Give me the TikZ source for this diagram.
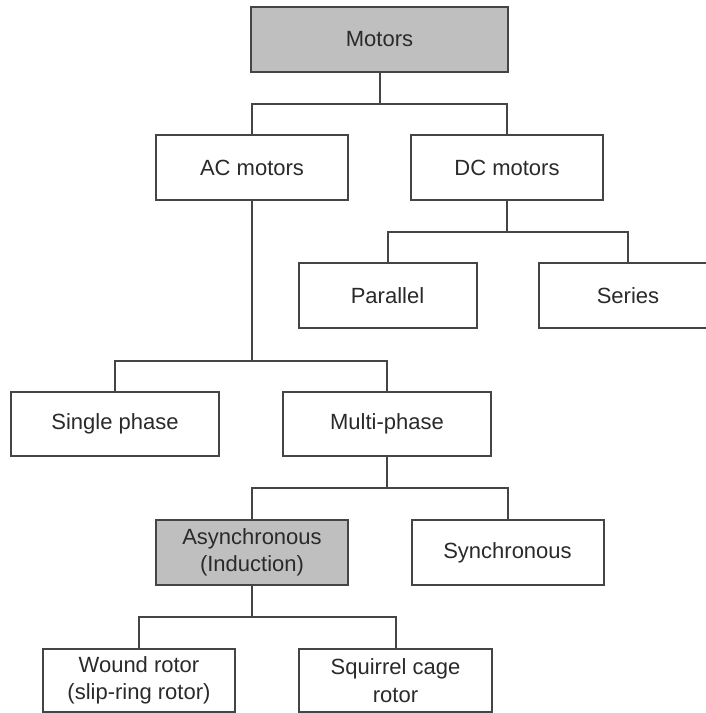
\documentclass[tikz,border=0pt]{standalone}
\usepackage{fontspec}
\setmainfont{Liberation Sans}
\definecolor{linec}{HTML}{454545}
\definecolor{textc}{HTML}{2A2A2A}
\definecolor{boxfill}{HTML}{C0BFC0}
\tikzset{
  box/.style={draw=linec, line width=2pt, fill=white, inner sep=0pt, align=center,
    text=textc, font=\fontsize{22}{27.5}\selectfont, minimum height=65pt},
  hbox/.style={box, fill=boxfill},
  conn/.style={draw=linec, line width=2pt}
}
\begin{document}
\begin{tikzpicture}[x=1pt, y=-1pt]
\clip (0,0) rectangle (706,713);
\fill[white] (0,0) rectangle (706,713);
\node[hbox, minimum width=257pt] (motors) at (379.5,39.5) {Motors};
\node[box, minimum width=192pt] (ac) at (252,167.5) {AC motors};
\node[box, minimum width=192pt] (dc) at (507,167.5) {DC motors};
\node[box, minimum width=178pt] (par) at (387.5,295.5) {Parallel};
\node[box, minimum width=178pt] (ser) at (628,295.5) {Series};
\node[box, minimum width=208pt, minimum height=64pt] (single) at (115,424) {Single phase};
\node[box, minimum width=208pt, minimum height=64pt] (multi) at (387,424) {Multi-phase};
\node[hbox, minimum width=192pt] (async) at (252,552.5) {Asynchronous\\(Induction)};
\node[box, minimum width=192pt] (sync) at (507.5,552.5) {Synchronous};
\node[box, minimum width=192pt, minimum height=63pt] (wound) at (139,680.5) {Wound rotor\\(slip-ring rotor)};
\node[box, minimum width=193pt, minimum height=63pt] (squirrel) at (395.5,680.5) {Squirrel cage\\rotor};

\coordinate (j1) at (379.5,104);
\coordinate (j2) at (507,232);
\coordinate (j3) at (252,361);
\coordinate (j4) at (387,488);
\coordinate (j5) at (252,617);

\draw[conn] (motors.south) -- (j1);
\draw[conn] (ac.north) |- (j1) -| (dc.north);
\draw[conn] (dc.south) -- (j2);
\draw[conn] (par.north) |- (j2) -| (ser.north);
\draw[conn] (ac.south) -- (j3);
\draw[conn] (single.north) |- (j3) -| (multi.north);
\draw[conn] (multi.south) -- (j4);
\draw[conn] (async.north) |- (j4) -| (sync.north);
\draw[conn] (async.south) -- (j5);
\draw[conn] (wound.north) |- (j5) -| (squirrel.north);
\end{tikzpicture}
\end{document}
